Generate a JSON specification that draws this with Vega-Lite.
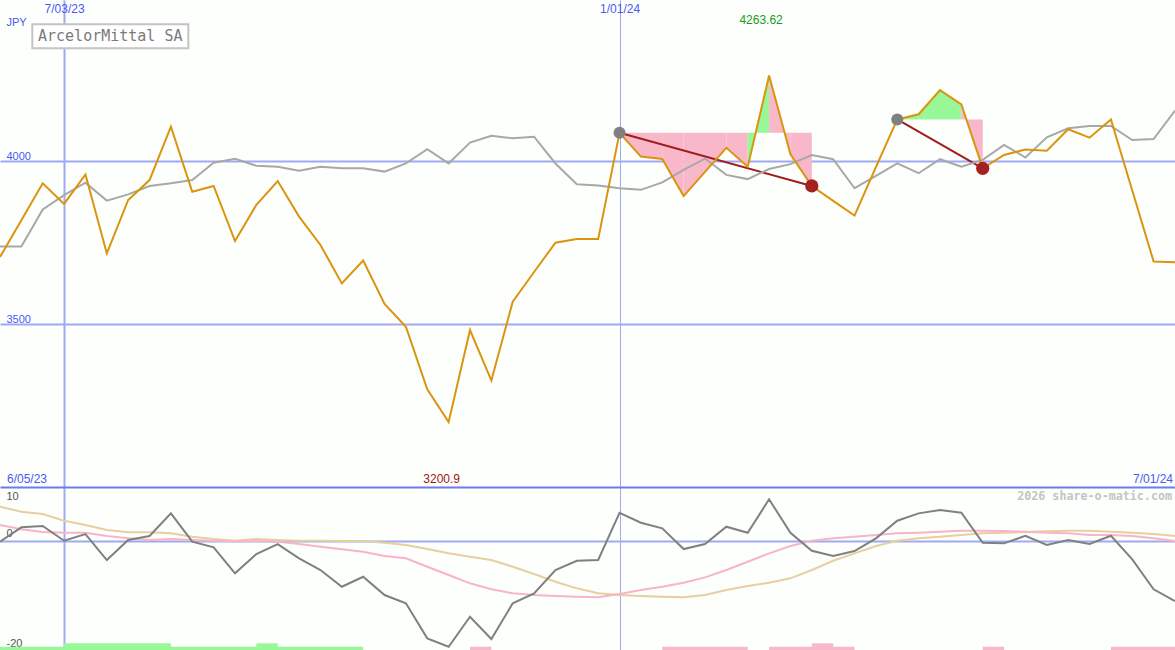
{
  "$schema": "https://vega.github.io/schema/vega-lite/v6.json",
  "padding": 0,
  "background": "#fcfffc",
  "spacing": 0,
  "bounds": "flush",
  "config": {"view": {"stroke": null}, "font": "Liberation Sans"},
  "datasets": {
    "weekly": [
      {"d": "2023-06-12", "price": 3707, "avg": 3739, "osc": -0.07, "ma1": 3.00, "ma2": 6.37},
      {"d": "2023-06-19", "price": 3820, "avg": 3739, "osc": 2.58, "ma1": 2.21, "ma2": 5.45},
      {"d": "2023-06-26", "price": 3933, "avg": 3853, "osc": 2.82, "ma1": 1.71, "ma2": 5.02},
      {"d": "2023-07-03", "price": 3870, "avg": 3897, "osc": 0.11, "ma1": 1.58, "ma2": 3.79},
      {"d": "2023-07-10", "price": 3960, "avg": 3935, "osc": 1.34, "ma1": 1.58, "ma2": 3.00},
      {"d": "2023-07-17", "price": 3718, "avg": 3880, "osc": -3.44, "ma1": 0.98, "ma2": 2.08},
      {"d": "2023-07-24", "price": 3882, "avg": 3899, "osc": 0.24, "ma1": 0.55, "ma2": 1.66},
      {"d": "2023-07-31", "price": 3943, "avg": 3925, "osc": 0.98, "ma1": 0.24, "ma2": 1.66},
      {"d": "2023-08-07", "price": 4107, "avg": 3933, "osc": 5.15, "ma1": 0.42, "ma2": 1.47},
      {"d": "2023-08-14", "price": 3907, "avg": 3943, "osc": -0.07, "ma1": 0.24, "ma2": 0.85},
      {"d": "2023-08-21", "price": 3925, "avg": 3996, "osc": -1.10, "ma1": 0.11, "ma2": 0.43},
      {"d": "2023-08-28", "price": 3756, "avg": 4008, "osc": -5.89, "ma1": 0.00, "ma2": 0.11},
      {"d": "2023-09-04", "price": 3867, "avg": 3987, "osc": -2.34, "ma1": 0.06, "ma2": 0.43},
      {"d": "2023-09-11", "price": 3940, "avg": 3984, "osc": -0.50, "ma1": -0.07, "ma2": 0.24},
      {"d": "2023-09-18", "price": 3831, "avg": 3972, "osc": -3.13, "ma1": -0.50, "ma2": 0.11},
      {"d": "2023-09-25", "price": 3744, "avg": 3984, "osc": -5.28, "ma1": -0.99, "ma2": 0.11},
      {"d": "2023-10-02", "price": 3626, "avg": 3979, "osc": -8.36, "ma1": -1.47, "ma2": 0.06},
      {"d": "2023-10-09", "price": 3696, "avg": 3979, "osc": -6.52, "ma1": -1.91, "ma2": 0.06},
      {"d": "2023-10-16", "price": 3563, "avg": 3969, "osc": -9.88, "ma1": -2.71, "ma2": -0.26},
      {"d": "2023-10-23", "price": 3493, "avg": 3994, "osc": -11.41, "ma1": -3.13, "ma2": -0.68},
      {"d": "2023-10-30", "price": 3301, "avg": 4038, "osc": -17.85, "ma1": -4.68, "ma2": -1.42},
      {"d": "2023-11-06", "price": 3200.9, "avg": 3994, "osc": -19.40, "ma1": -6.20, "ma2": -2.21},
      {"d": "2023-11-13", "price": 3483, "avg": 4058, "osc": -13.88, "ma1": -7.73, "ma2": -2.83},
      {"d": "2023-11-20", "price": 3328, "avg": 4079, "osc": -17.98, "ma1": -8.83, "ma2": -3.44},
      {"d": "2023-11-27", "price": 3570, "avg": 4071, "osc": -11.41, "ma1": -9.57, "ma2": -4.68},
      {"d": "2023-12-04", "price": 3661, "avg": 4076, "osc": -9.57, "ma1": -9.88, "ma2": -6.02},
      {"d": "2023-12-11", "price": 3751, "avg": 3994, "osc": -5.28, "ma1": -10.07, "ma2": -7.44},
      {"d": "2023-12-18", "price": 3762, "avg": 3930, "osc": -3.57, "ma1": -10.20, "ma2": -8.65},
      {"d": "2023-12-25", "price": 3762, "avg": 3926, "osc": -3.44, "ma1": -10.31, "ma2": -9.57},
      {"d": "2024-01-01", "price": 4088, "avg": 3918, "osc": 5.26, "ma1": -9.70, "ma2": -9.88},
      {"d": "2024-01-08", "price": 4015, "avg": 3913, "osc": 3.42, "ma1": -8.96, "ma2": -10.07},
      {"d": "2024-01-15", "price": 4008, "avg": 3936, "osc": 2.39, "ma1": -8.36, "ma2": -10.20},
      {"d": "2024-01-22", "price": 3894, "avg": 3974, "osc": -1.42, "ma1": -7.62, "ma2": -10.31},
      {"d": "2024-01-29", "price": 3968, "avg": 4009, "osc": -0.50, "ma1": -6.63, "ma2": -9.88},
      {"d": "2024-02-05", "price": 4042, "avg": 3959, "osc": 2.69, "ma1": -5.28, "ma2": -8.96},
      {"d": "2024-02-12", "price": 3984, "avg": 3946, "osc": 1.58, "ma1": -3.75, "ma2": -8.23},
      {"d": "2024-02-19", "price": 4263.62, "avg": 3977, "osc": 7.73, "ma1": -2.21, "ma2": -7.62},
      {"d": "2024-02-26", "price": 4022, "avg": 3992, "osc": 1.58, "ma1": -0.87, "ma2": -6.81},
      {"d": "2024-03-04", "price": 3925, "avg": 4020, "osc": -1.73, "ma1": 0.11, "ma2": -5.28},
      {"d": "2024-03-11", "price": 3879, "avg": 4007, "osc": -2.71, "ma1": 0.55, "ma2": -3.57},
      {"d": "2024-03-18", "price": 3834, "avg": 3918, "osc": -1.79, "ma1": 0.85, "ma2": -2.21},
      {"d": "2024-03-25", "price": 3983, "avg": 3956, "osc": 0.55, "ma1": 1.16, "ma2": -0.87},
      {"d": "2024-04-01", "price": 4129, "avg": 3994, "osc": 3.79, "ma1": 1.47, "ma2": 0.11},
      {"d": "2024-04-08", "price": 4145, "avg": 3964, "osc": 5.15, "ma1": 1.58, "ma2": 0.55},
      {"d": "2024-04-15", "price": 4219, "avg": 4007, "osc": 5.76, "ma1": 1.77, "ma2": 0.85},
      {"d": "2024-04-22", "price": 4175, "avg": 3984, "osc": 5.26, "ma1": 1.95, "ma2": 1.16},
      {"d": "2024-04-29", "price": 3979, "avg": 4005, "osc": -0.26, "ma1": 1.95, "ma2": 1.47},
      {"d": "2024-05-06", "price": 4020, "avg": 4051, "osc": -0.37, "ma1": 1.90, "ma2": 1.58},
      {"d": "2024-05-13", "price": 4037, "avg": 4012, "osc": 1.03, "ma1": 1.77, "ma2": 1.71},
      {"d": "2024-05-20", "price": 4033, "avg": 4074, "osc": -0.68, "ma1": 1.58, "ma2": 1.84},
      {"d": "2024-05-27", "price": 4099, "avg": 4102, "osc": 0.24, "ma1": 1.47, "ma2": 1.95},
      {"d": "2024-06-03", "price": 4073, "avg": 4109, "osc": -0.50, "ma1": 1.16, "ma2": 1.95},
      {"d": "2024-06-10", "price": 4129, "avg": 4109, "osc": 1.03, "ma1": 1.16, "ma2": 1.77},
      {"d": "2024-06-17", "price": 3911, "avg": 4066, "osc": -3.31, "ma1": 0.98, "ma2": 1.58},
      {"d": "2024-06-24", "price": 3693, "avg": 4069, "osc": -8.83, "ma1": 0.55, "ma2": 1.34},
      {"d": "2024-07-01", "price": 3691, "avg": 4156, "osc": -10.99, "ma1": 0.06, "ma2": 0.98}
    ],
    "fills": [
      {"seg": 1, "d": "2024-01-01", "p": 4088, "lvl": 4088, "trend": "down"},
      {"seg": 1, "d": "2024-01-08", "p": 4015, "lvl": 4088, "trend": "down"},
      {"seg": 2, "d": "2024-01-08", "p": 4015, "lvl": 4088, "trend": "down"},
      {"seg": 2, "d": "2024-01-15", "p": 4008, "lvl": 4088, "trend": "down"},
      {"seg": 3, "d": "2024-01-15", "p": 4008, "lvl": 4088, "trend": "down"},
      {"seg": 3, "d": "2024-01-22", "p": 3894, "lvl": 4088, "trend": "down"},
      {"seg": 4, "d": "2024-01-22", "p": 3894, "lvl": 4088, "trend": "down"},
      {"seg": 4, "d": "2024-01-29", "p": 3968, "lvl": 4088, "trend": "down"},
      {"seg": 5, "d": "2024-01-29", "p": 3968, "lvl": 4088, "trend": "down"},
      {"seg": 5, "d": "2024-02-05", "p": 4042, "lvl": 4088, "trend": "down"},
      {"seg": 6, "d": "2024-02-05", "p": 4042, "lvl": 4088, "trend": "down"},
      {"seg": 6, "d": "2024-02-12", "p": 3984, "lvl": 4088, "trend": "down"},
      {"seg": 7, "d": "2024-02-12", "p": 3984, "lvl": 4088, "trend": "up"},
      {"seg": 7, "d": "2024-02-19", "p": 4263.62, "lvl": 4088, "trend": "up"},
      {"seg": 8, "d": "2024-02-19", "p": 4263.62, "lvl": 4088, "trend": "down"},
      {"seg": 8, "d": "2024-02-26", "p": 4022, "lvl": 4088, "trend": "down"},
      {"seg": 9, "d": "2024-02-26", "p": 4022, "lvl": 4088, "trend": "down"},
      {"seg": 9, "d": "2024-03-04", "p": 3925, "lvl": 4088, "trend": "down"},
      {"seg": 10, "d": "2024-04-01", "p": 4129, "lvl": 4129, "trend": "up"},
      {"seg": 10, "d": "2024-04-08", "p": 4145, "lvl": 4129, "trend": "up"},
      {"seg": 11, "d": "2024-04-08", "p": 4145, "lvl": 4129, "trend": "up"},
      {"seg": 11, "d": "2024-04-15", "p": 4219, "lvl": 4129, "trend": "up"},
      {"seg": 12, "d": "2024-04-15", "p": 4219, "lvl": 4129, "trend": "up"},
      {"seg": 12, "d": "2024-04-22", "p": 4175, "lvl": 4129, "trend": "up"},
      {"seg": 13, "d": "2024-04-22", "p": 4175, "lvl": 4129, "trend": "down"},
      {"seg": 13, "d": "2024-04-29", "p": 3979, "lvl": 4129, "trend": "down"}
    ],
    "signals": [
      {"d1": "2024-01-01", "p1": 4088, "d2": "2024-03-04", "p2": 3925},
      {"d1": "2024-04-01", "p1": 4129, "d2": "2024-04-29", "p2": 3979}
    ],
    "bars": [
      {"start": "2023-06-12", "end": "2023-10-09", "top": -19.4, "trend": "up"},
      {"start": "2023-07-03", "end": "2023-08-07", "top": -18.77, "trend": "up"},
      {"start": "2023-09-04", "end": "2023-09-11", "top": -18.77, "trend": "up"},
      {"start": "2023-11-13", "end": "2023-11-20", "top": -19.4, "trend": "down"},
      {"start": "2024-01-15", "end": "2024-02-12", "top": -19.4, "trend": "down"},
      {"start": "2024-02-19", "end": "2024-03-18", "top": -19.4, "trend": "down"},
      {"start": "2024-03-04", "end": "2024-03-11", "top": -18.77, "trend": "down"},
      {"start": "2024-04-29", "end": "2024-05-06", "top": -19.4, "trend": "down"},
      {"start": "2024-06-10", "end": "2024-07-01", "top": -19.4, "trend": "down"}
    ]
  },
  "vconcat": [
    {
      "width": 1175,
      "height": 487,
      "layer": [
        {
          "data": {"name": "fills"},
          "mark": {"type": "area", "clip": true, "opacity": 1},
          "encoding": {
            "x": {"field": "d", "type": "temporal",
              "scale": {"type": "utc", "domain": [{"year": 2023, "month": 6, "date": 12, "utc": true}, {"year": 2024, "month": 7, "date": 1, "utc": true}]},
              "axis": {"orient": "top", "title": null,
                "values": [{"year": 2023, "month": 7, "date": 3, "utc": true}, {"year": 2024, "month": 1, "date": 1, "utc": true}],
                "format": "%-m/%d/%y", "grid": true, "gridColor": "#a0aaf2",
                "gridWidth": {"condition": {"test": "utcyear(datum.value) == 2023", "value": 2}, "value": 1},
                "domain": false, "ticks": false, "tickSize": 0, "labelPadding": -15, "labelBaseline": "bottom",
                "labelColor": "#4a5af0", "labelFontSize": 12, "labelFlush": false, "labelOverlap": false, "labelBound": false}},
            "y": {"field": "p", "type": "quantitative", "stack": null,
              "scale": {"domain": [3001.5, 4495.4], "nice": false, "zero": false},
              "axis": {"orient": "left", "values": [3500, 4000], "labelExpr": "'' + datum.value", "grid": true, "gridColor": "#a0aaf2", "gridWidth": 2,
                "domain": false, "ticks": false, "tickSize": 0, "labelAlign": "left", "labelPadding": -6,
                "labelBaseline": "alphabetic", "labelOffset": -2, "labelColor": "#4a5af0", "labelFontSize": 11,
                "labelFlush": false, "labelOverlap": false, "labelBound": false,
                "title": "JPY", "titleAngle": 0, "titleX": 6, "titleY": 25, "titleAlign": "left", "titleBaseline": "alphabetic",
                "titleColor": "#4a5af0", "titleFontSize": 11, "titleFontWeight": "normal", "titleFont": "Liberation Sans"}},
            "y2": {"field": "lvl"},
            "detail": {"field": "seg", "type": "nominal"},
            "color": {"field": "trend", "type": "nominal", "legend": null,
              "scale": {"domain": ["up", "down"], "range": ["#98f898", "#f9b7ca"]}}
          }
        },
        {
          "data": {"name": "signals"},
          "mark": {"type": "rule", "color": "#a01c1c", "strokeWidth": 2},
          "encoding": {
            "x": {"field": "d1", "type": "temporal"},
            "y": {"field": "p1", "type": "quantitative"},
            "x2": {"field": "d2"},
            "y2": {"field": "p2"}
          }
        },
        {
          "data": {"name": "weekly"},
          "mark": {"type": "line", "color": "#a8a8a8", "strokeWidth": 2, "clip": true},
          "encoding": {
            "x": {"field": "d", "type": "temporal"},
            "y": {"field": "avg", "type": "quantitative"}
          }
        },
        {
          "data": {"name": "weekly"},
          "mark": {"type": "line", "color": "#da940e", "strokeWidth": 2, "clip": true},
          "encoding": {
            "x": {"field": "d", "type": "temporal"},
            "y": {"field": "price", "type": "quantitative"}
          }
        },
        {
          "data": {"name": "signals"},
          "mark": {"type": "point", "filled": true, "color": "#808080", "size": 145, "opacity": 1},
          "encoding": {
            "x": {"field": "d1", "type": "temporal"},
            "y": {"field": "p1", "type": "quantitative"}
          }
        },
        {
          "data": {"name": "signals"},
          "mark": {"type": "point", "filled": true, "color": "#a52020", "size": 175, "opacity": 1},
          "encoding": {
            "x": {"field": "d2", "type": "temporal"},
            "y": {"field": "p2", "type": "quantitative"}
          }
        },
        {
          "data": {"values": [{"name": "ArcelorMittal SA"}]},
          "mark": {"type": "rect", "fill": "#ffffff", "stroke": "#c4c4c4", "strokeWidth": 2},
          "encoding": {
            "x": {"datum": {"year": 2023, "month": 6, "date": 22, "hours": 14, "utc": true}, "type": "temporal"},
            "x2": {"datum": {"year": 2023, "month": 8, "date": 12, "hours": 17, "utc": true}},
            "y": {"datum": 4420.9, "type": "quantitative"},
            "y2": {"datum": 4347.2}
          }
        },
        {
          "data": {"values": [{"name": "ArcelorMittal SA"}]},
          "mark": {"type": "text", "font": "DejaVu Sans Mono", "fontSize": 15, "color": "#7a7a7a", "align": "center", "baseline": "middle"},
          "encoding": {
            "x": {"datum": {"year": 2023, "month": 7, "date": 18, "hours": 3, "utc": true}, "type": "temporal"},
            "y": {"datum": 4384, "type": "quantitative"},
            "text": {"field": "name"}
          }
        },
        {
          "data": {"values": [{"t": "4263.62"}]},
          "mark": {"type": "text", "fontSize": 12, "color": "#1a9a1a", "align": "center", "baseline": "middle", "dx": -8},
          "encoding": {
            "x": {"datum": {"year": 2024, "month": 2, "date": 19, "utc": true}, "type": "temporal"},
            "y": {"datum": 4434, "type": "quantitative"},
            "text": {"field": "t"}
          }
        },
        {
          "data": {"values": [{"t": "3200.9"}]},
          "mark": {"type": "text", "fontSize": 12, "color": "#a01818", "align": "center", "baseline": "middle", "dx": -7},
          "encoding": {
            "x": {"datum": {"year": 2023, "month": 11, "date": 6, "utc": true}, "type": "temporal"},
            "y": {"datum": 3026, "type": "quantitative"},
            "text": {"field": "t"}
          }
        },
        {
          "data": {"values": [{"t": "6/05/23"}]},
          "mark": {"type": "text", "fontSize": 12, "color": "#4a5af0", "align": "left", "baseline": "middle", "dx": 7},
          "encoding": {
            "x": {"datum": {"year": 2023, "month": 6, "date": 12, "utc": true}, "type": "temporal"},
            "y": {"datum": 3026, "type": "quantitative"},
            "text": {"field": "t"}
          }
        },
        {
          "data": {"values": [{"t": "7/01/24"}]},
          "mark": {"type": "text", "fontSize": 12, "color": "#4a5af0", "align": "right", "baseline": "middle", "dx": -2},
          "encoding": {
            "x": {"datum": {"year": 2024, "month": 7, "date": 1, "utc": true}, "type": "temporal"},
            "y": {"datum": 3026, "type": "quantitative"},
            "text": {"field": "t"}
          }
        }
      ]
    },
    {
      "width": 1175,
      "height": 163,
      "layer": [
        {
          "data": {"name": "bars"},
          "mark": {"type": "rect", "clip": true},
          "encoding": {
            "x": {"field": "start", "type": "temporal",
              "scale": {"type": "utc", "domain": [{"year": 2023, "month": 6, "date": 12, "utc": true}, {"year": 2024, "month": 7, "date": 1, "utc": true}]},
              "axis": {"orient": "top", "title": null, "labels": false,
                "values": [{"year": 2023, "month": 7, "date": 3, "utc": true}, {"year": 2024, "month": 1, "date": 1, "utc": true}],
                "grid": true, "gridColor": "#a0aaf2",
                "gridWidth": {"condition": {"test": "utcyear(datum.value) == 2023", "value": 2}, "value": 1},
                "domain": true, "domainColor": "#6c7cea", "domainWidth": 2, "ticks": false, "tickSize": 0}},
            "x2": {"field": "end"},
            "y": {"field": "top", "type": "quantitative",
              "scale": {"domain": [-20, 10], "nice": false, "zero": false},
              "axis": {"orient": "left", "values": [-20, 0, 10], "labelExpr": "'' + datum.value", "grid": true, "gridColor": "#a0aaf2", "gridWidth": 2,
                "gridOpacity": {"condition": {"test": "datum.value == 0", "value": 1}, "value": 0},
                "domain": false, "ticks": false, "tickSize": 0, "labelAlign": "left", "labelPadding": -6,
                "labelBaseline": {"condition": {"test": "datum.value == 10", "value": "top"}, "value": "alphabetic"},
                "labelOffset": {"condition": [{"test": "datum.value == 10", "value": 3}, {"test": "datum.value == 0", "value": -4.5}], "value": -3.3},
                "labelColor": "#555555", "labelFontSize": 11, "labelFlush": false, "labelOverlap": false, "labelBound": false, "title": null}},
            "y2": {"datum": -20},
            "color": {"field": "trend", "type": "nominal", "legend": null,
              "scale": {"domain": ["up", "down"], "range": ["#98f898", "#f9b7ca"]}}
          }
        },
        {
          "data": {"name": "weekly"},
          "mark": {"type": "line", "color": "#e6cfa0", "strokeWidth": 2, "clip": true},
          "encoding": {
            "x": {"field": "d", "type": "temporal"},
            "y": {"field": "ma2", "type": "quantitative"}
          }
        },
        {
          "data": {"name": "weekly"},
          "mark": {"type": "line", "color": "#f9b4c8", "strokeWidth": 2, "clip": true},
          "encoding": {
            "x": {"field": "d", "type": "temporal"},
            "y": {"field": "ma1", "type": "quantitative"}
          }
        },
        {
          "data": {"name": "weekly"},
          "mark": {"type": "line", "color": "#808080", "strokeWidth": 2, "clip": true},
          "encoding": {
            "x": {"field": "d", "type": "temporal"},
            "y": {"field": "osc", "type": "quantitative"}
          }
        },
        {
          "data": {"values": [{"t": "2026 share-o-matic.com"}]},
          "mark": {"type": "text", "font": "DejaVu Sans Mono", "fontSize": 11.7, "fontWeight": "bold", "color": "#c4c4c4", "align": "right", "baseline": "middle", "dx": -3},
          "encoding": {
            "x": {"datum": {"year": 2024, "month": 7, "date": 1, "utc": true}, "type": "temporal"},
            "y": {"datum": 8.34, "type": "quantitative"},
            "text": {"field": "t"}
          }
        }
      ]
    }
  ]
}
